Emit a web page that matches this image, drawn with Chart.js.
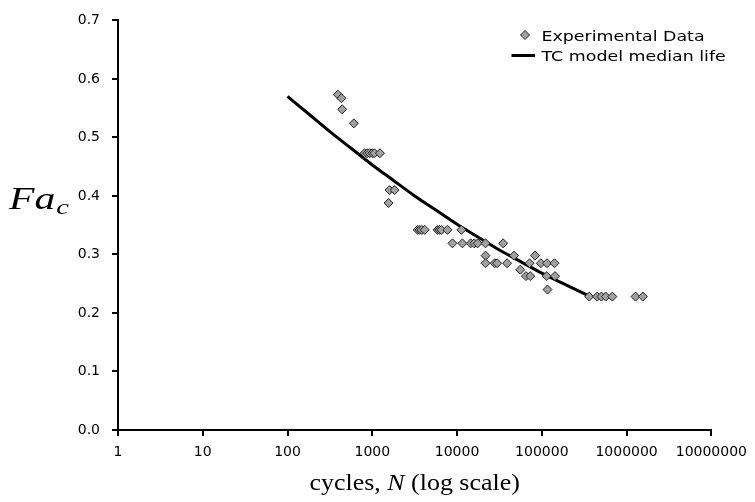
<!DOCTYPE html>
<html>
<head>
<meta charset="utf-8">
<script src="https://cdn.jsdelivr.net/npm/chart.js@4.4.0/dist/chart.umd.min.js"></script>
<style>
  html, body { margin: 0; padding: 0; background: #fff; }
</style>
</head>
<body>
<canvas id="chart" width="755" height="502"></canvas>
<script>
// experimental points: cycles to failure and load level
const expCycles = [
  393, 433, 441, 605,
  810, 870, 930, 1000, 1060, 1230,
  1600, 1830, 1555,
  3430, 3620, 3830, 4160, 5890, 6200, 6540, 7710, 11250,
  8830, 11560, 14470, 15900, 17500, 21660, 34950,
  21660, 47000, 83000,
  21660, 27800, 29700, 38900, 71800, 97500, 115000, 141000,
  55700,
  65000, 73000, 114000, 143000,
  116700,
  362000, 450000, 505000, 568000, 679000, 1274000, 1556000
];
const expFac = [
  0.573, 0.567, 0.548, 0.524,
  0.473, 0.473, 0.473, 0.473, 0.473, 0.473,
  0.410, 0.410, 0.388,
  0.342, 0.342, 0.342, 0.342, 0.342, 0.342, 0.342, 0.342, 0.342,
  0.319, 0.319, 0.319, 0.319, 0.319, 0.319, 0.319,
  0.298, 0.298, 0.298,
  0.285, 0.285, 0.285, 0.285, 0.285, 0.285, 0.285, 0.285,
  0.274,
  0.263, 0.263, 0.263, 0.263,
  0.240,
  0.228, 0.228, 0.228, 0.228, 0.228, 0.228, 0.228
];

// TC model median life curve
const modelCycles = [100, 178, 316, 562, 1000, 1778, 3162, 5623, 10000, 17783, 31623, 56234, 100000, 177828, 316228, 362000];
const modelFac = [0.570, 0.540, 0.510, 0.4815, 0.453, 0.4265, 0.400, 0.3758, 0.3515, 0.3295, 0.3075, 0.2878, 0.268, 0.2505, 0.233, 0.2288];

const xTickValues = [1, 10, 100, 1000, 10000, 100000, 1000000, 10000000];
const xTickLabels = ["1", "10", "100", "1000", "10000", "100000", "1000000", "10000000"];

const tickFont = { family: "'DejaVu Sans', Verdana, sans-serif", size: 14 };

function stretchText(ctx, text, x, y, font, sx) {
  ctx.save();
  ctx.font = font;
  ctx.translate(x, y);
  ctx.scale(sx, 1);
  ctx.fillText(text, 0, 0);
  const w = ctx.measureText(text).width * sx;
  ctx.restore();
  return w;
}

const textLayer = {
  id: "textLayer",
  afterDraw(chart) {
    const ctx = chart.ctx;
    const ds = chart.data.datasets;
    ctx.save();
    ctx.fillStyle = "#000";
    ctx.textAlign = "left";
    ctx.textBaseline = "alphabetic";

    // legend
    ctx.fillStyle = ds[0].backgroundColor;
    ctx.strokeStyle = ds[0].borderColor;
    Chart.helpers.drawPoint(ctx, { pointStyle: "rectRot", radius: 4.5, borderWidth: 1, rotation: 0 }, 525, 35);
    ctx.fillStyle = "#000";
    stretchText(ctx, ds[0].label, 541.5, 40.7, "14.5px 'DejaVu Sans', Verdana, sans-serif", 1.2);

    ctx.strokeStyle = ds[1].borderColor;
    ctx.lineWidth = 3;
    ctx.beginPath();
    ctx.moveTo(511.5, 55.5);
    ctx.lineTo(535, 55.5);
    ctx.stroke();
    stretchText(ctx, ds[1].label, 541.5, 60.7, "14.5px 'DejaVu Sans', Verdana, sans-serif", 1.2);

    // y axis title  Fa_c
    const w = stretchText(ctx, "Fa", 9, 208.5, "italic 32px 'Liberation Serif', serif", 1.3);
    stretchText(ctx, "c", 9 + w + 1, 214, "italic 22px 'Liberation Serif', serif", 1.3);

    // x axis title
    const serif = "24px 'Liberation Serif', serif";
    const serifIt = "italic 24px 'Liberation Serif', serif";
    const parts = [["cycles, ", serif], ["N", serifIt], [" (log scale)", serif]];
    const sx = 1.08;
    let total = 0;
    for (const [t, f] of parts) { ctx.font = f; total += ctx.measureText(t).width * sx; }
    let x = (chart.chartArea.left + chart.chartArea.right) / 2 - total / 2;
    for (const [t, f] of parts) { x += stretchText(ctx, t, x, 490, f, sx); }

    ctx.restore();
  }
};

new Chart(document.getElementById("chart"), {
  type: "scatter",
  data: {
    datasets: [
      {
        label: "Experimental Data",
        data: expCycles.map((n, i) => ({ x: n, y: expFac[i] })),
        pointStyle: "rectRot",
        pointRadius: 4.5,
        pointBorderWidth: 1,
        backgroundColor: "#a0a0a0",
        borderColor: "#222",
        showLine: false,
        order: 0
      },
      {
        label: "TC model median life",
        data: modelCycles.map((n, i) => ({ x: n, y: modelFac[i] })),
        showLine: true,
        pointRadius: 0,
        borderColor: "#000",
        backgroundColor: "#000",
        borderWidth: 3,
        cubicInterpolationMode: "monotone",
        order: 1
      }
    ]
  },
  options: {
    responsive: false,
    animation: false,
    devicePixelRatio: 1,
    layout: { padding: { left: 0, right: 39, top: 17, bottom: 0 } },
    plugins: {
      legend: { display: false },
      tooltip: { enabled: false }
    },
    scales: {
      x: {
        type: "logarithmic",
        min: 1,
        max: 10000000,
        afterBuildTicks: (scale) => {
          scale.ticks = xTickValues.map((v) => ({ value: v }));
        },
        afterFit: (scale) => { scale.height = 72; },
        ticks: {
          callback: (value, i) => xTickLabels[i],
          autoSkip: false,
          maxRotation: 0,
          color: "#000",
          font: tickFont,
          padding: 8
        },
        grid: { drawOnChartArea: false, drawTicks: true, tickLength: 6, color: "#000", lineWidth: 2 },
        border: { display: true, color: "#000", width: 2 }
      },
      y: {
        min: 0,
        max: 0.7,
        afterFit: (scale) => { scale.width = 118; },
        ticks: {
          stepSize: 0.1,
          callback: (v) => v.toFixed(1),
          color: "#000",
          font: tickFont,
          padding: 12
        },
        grid: { drawOnChartArea: false, drawTicks: true, tickLength: 6, color: "#000", lineWidth: 2 },
        border: { display: true, color: "#000", width: 2 }
      }
    }
  },
  plugins: [textLayer]
});
</script>
</body>
</html>
